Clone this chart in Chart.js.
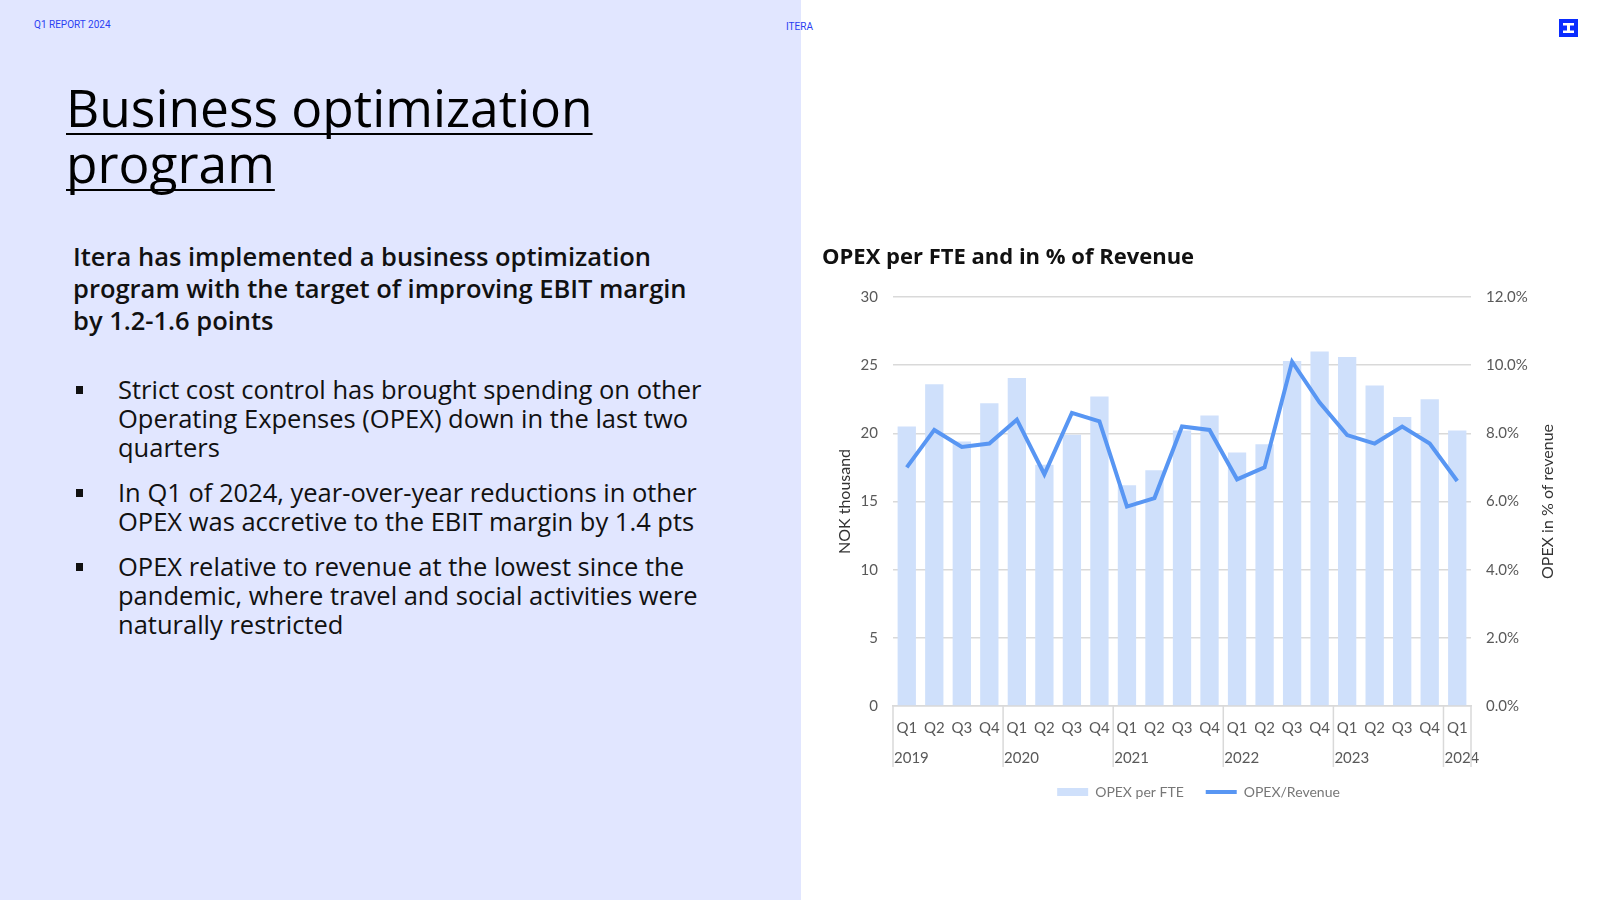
<!DOCTYPE html>
<html>
<head>
<meta charset="utf-8">
<script src="https://cdn.jsdelivr.net/npm/chart.js@4.4.1/dist/chart.umd.min.js"></script>
<style>
  html, body { margin: 0; padding: 0; }
  body { width: 1600px; height: 900px; position: relative; background: #fff; overflow: hidden; font-family: 'Open Sans', sans-serif; }
  .panel { position: absolute; left: 0; top: 0; width: 801px; height: 900px; background: #e1e6ff; }
  .tag { position: absolute; font-family: Roboto, sans-serif; font-size: 10px; color: #2b3ff2; line-height: 12px; white-space: nowrap; }
  .logo { position: absolute; left: 1559px; top: 19px; width: 19px; height: 18px; }
  h1 { position: absolute; left: 66px; top: 79px; margin: 0; font-weight: 400; font-size: 51.5px; line-height: 56px; color: #000;
       text-decoration: underline; text-decoration-thickness: 2px; text-underline-offset: 6px; text-decoration-skip-ink: none; white-space: nowrap; }
  .lead { position: absolute; left: 73px; top: 240px; margin: 0; font-weight: 600; font-size: 25.5px; line-height: 32px; color: #111; white-space: nowrap; }
  ul { position: absolute; left: 0; top: 375px; margin: 0; padding: 0; list-style: none; }
  li { position: relative; padding-left: 118px; font-size: 25.5px; line-height: 29px; color: #111; white-space: nowrap; margin-bottom: 16px; }
  li::before { content: ''; position: absolute; left: 76px; top: 11px; width: 7px; height: 8px; background: #111; }
  #chart { position: absolute; left: 822px; top: 235px; }
</style>
</head>
<body>
<div class="panel"></div>
<div class="tag" style="left:34px; top:19px;">Q1 REPORT 2024</div>
<div class="tag" style="left:786px; top:21px;">ITERA</div>
<svg class="logo" viewBox="0 0 19 18">
  <rect width="19" height="18" fill="#0a2cff"/>
  <rect x="4" y="4" width="11" height="2.5" fill="#fff"/>
  <rect x="8" y="6" width="3" height="6" fill="#fff"/>
  <rect x="4" y="11.5" width="11" height="2.5" fill="#fff"/>
</svg>
<h1>Business optimization<br>program</h1>
<p class="lead">Itera has implemented a business optimization<br>program with the target of improving EBIT margin<br>by 1.2-1.6 points</p>
<ul>
  <li>Strict cost control has brought spending on other<br>Operating Expenses (OPEX) down in the last two<br>quarters</li>
  <li>In Q1 of 2024, year-over-year reductions in other<br>OPEX was accretive to the EBIT margin by 1.4 pts</li>
  <li>OPEX relative to revenue at the lowest since the<br>pandemic, where travel and social activities were<br>naturally restricted</li>
</ul>
<canvas id="chart" width="753" height="574"></canvas>
<script>
const quarterLabels = ['Q1', 'Q2', 'Q3', 'Q4', 'Q1', 'Q2', 'Q3', 'Q4', 'Q1', 'Q2', 'Q3', 'Q4',
  'Q1', 'Q2', 'Q3', 'Q4', 'Q1', 'Q2', 'Q3', 'Q4', 'Q1']
const yearLabels = ['2019', '2019', '2019', '2019', '2020', '2020', '2020', '2020', '2021', '2021', '2021', '2021',
  '2022', '2022', '2022', '2022', '2023', '2023', '2023', '2023', '2024']
// NOK thousand
const opexPerFte = [20.5, 23.6, 19.4, 22.2, 24.05, 17.7, 19.9, 22.7, 16.2, 17.3, 20.2, 21.3,
  18.6, 19.2, 25.3, 26.0, 25.6, 23.5, 21.2, 22.5, 20.2]
// percent of revenue
const opexRevenue = [7.0, 8.1, 7.6, 7.7, 8.4, 6.8, 8.6, 8.35, 5.85, 6.1, 8.2, 8.1,
  6.65, 7.0, 10.1, 8.9, 7.95, 7.7, 8.2, 7.7, 6.6]
const rightTitle = 'OPEX in % of revenue'

const barColor = '#cfe0fb'
const lineColor = '#5896f3'
const gridColor = '#d9d9d9'
const tickColor = '#595959'
const tickFont = { family: 'Lato', size: 15 }

// year row under the quarter labels, plus right axis title read bottom-up
const yearAxis = {
  id: 'yearAxis',
  afterDraw(chart) {
    const { ctx, chartArea } = chart
    const x = chart.scales.x
    const half = (x.getPixelForTick(1) - x.getPixelForTick(0)) / 2
    const bottom = chartArea.bottom
    ctx.save()
    ctx.strokeStyle = gridColor
    ctx.lineWidth = 1.5
    ctx.fillStyle = tickColor
    ctx.font = '15px Lato'
    ctx.textAlign = 'left'
    ctx.textBaseline = 'middle'
    let start = 0
    for (let i = 1; i <= yearLabels.length; i++) {
      if (i === yearLabels.length || yearLabels[i] !== yearLabels[start]) {
        const x0 = x.getPixelForTick(start) - half
        ctx.beginPath()
        ctx.moveTo(x0, bottom)
        ctx.lineTo(x0, bottom + 61)
        ctx.stroke()
        ctx.fillText(yearLabels[start], x0 + 1, bottom + 52)
        start = i
      }
    }
    ctx.beginPath()
    ctx.moveTo(chartArea.right, bottom)
    ctx.lineTo(chartArea.right, bottom + 61)
    ctx.stroke()

    const y1 = chart.scales.y1
    ctx.translate(y1.right - 27, (chartArea.top + chartArea.bottom) / 2)
    ctx.rotate(-Math.PI / 2)
    ctx.textAlign = 'center'
    ctx.fillStyle = '#333'
    ctx.font = '16px Lato'
    ctx.fillText(rightTitle, 0, 0)
    ctx.restore()
  },
}

new Chart(document.getElementById('chart'), {
  type: 'bar',
  data: {
    labels: quarterLabels,
    datasets: [
      {
        type: 'bar',
        label: 'OPEX per FTE',
        data: opexPerFte,
        backgroundColor: barColor,
        categoryPercentage: 1,
        barPercentage: 0.665,
        yAxisID: 'y',
        order: 1,
      },
      {
        type: 'line',
        label: 'OPEX/Revenue',
        data: opexRevenue,
        borderColor: lineColor,
        backgroundColor: lineColor,
        borderWidth: 4,
        pointRadius: 0,
        tension: 0,
        yAxisID: 'y1',
        order: 0,
      },
    ],
  },
  options: {
    responsive: false,
    animation: false,
    layout: { padding: 0 },
    plugins: {
      title: {
        display: true,
        text: 'OPEX per FTE and in % of Revenue',
        align: 'start',
        color: '#111',
        font: { family: 'Open Sans', size: 22, weight: 'bold' },
        padding: { top: 10, bottom: 25.6 },
      },
      legend: {
        position: 'bottom',
        labels: {
          usePointStyle: true,
          pointStyleWidth: 31,
          boxHeight: 8,
          padding: 22,
          color: '#777',
          font: { family: 'Lato', size: 14 },
          generateLabels: () => [
            { text: 'OPEX per FTE', fillStyle: barColor, strokeStyle: barColor, lineWidth: 0, pointStyle: 'rect', datasetIndex: 0, fontColor: '#777' },
            { text: 'OPEX/Revenue', fillStyle: lineColor, strokeStyle: lineColor, lineWidth: 4, pointStyle: 'line', datasetIndex: 1, fontColor: '#777' },
          ],
        },
      },
      tooltip: { enabled: false },
    },
    scales: {
      x: {
        grid: { display: false },
        border: { color: gridColor, width: 1.5 },
        ticks: { color: tickColor, font: tickFont, padding: 5, maxRotation: 0, autoSkip: false },
        afterFit: (scale) => { scale.height = 57 },
      },
      y: {
        position: 'left',
        min: 0,
        max: 30,
        ticks: { stepSize: 5, color: tickColor, font: tickFont, padding: 15 },
        grid: { color: gridColor, lineWidth: 1.5, drawTicks: false },
        border: { display: false },
        title: { display: true, text: 'NOK thousand', color: '#333', font: { family: 'Lato', size: 16 }, padding: { top: 13, bottom: 0 } },
        afterFit: (scale) => { scale.width = 71 },
      },
      y1: {
        position: 'right',
        min: 0,
        max: 12,
        ticks: { stepSize: 2, color: tickColor, font: tickFont, padding: 15, callback: (v) => v.toFixed(1) + '%' },
        grid: { display: false, drawTicks: false },
        border: { display: false },
        afterFit: (scale) => { scale.width = 104 },
      },
    },
  },
  plugins: [yearAxis],
})
</script>
</body>
</html>
